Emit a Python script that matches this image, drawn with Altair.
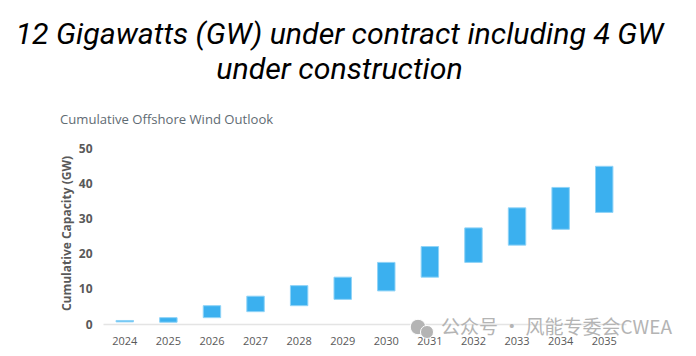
import altair as alt
import pandas as pd

years = ["2024","2025","2026","2027","2028","2029","2030","2031","2032","2033","2034","2035"]
low = [0.6,0.5,1.8,3.5,5.2,7.0,9.4,13.3,17.5,22.4,26.9,31.7]
high = [1.0,1.8,5.2,7.9,10.9,13.3,17.5,22.0,27.3,33.0,38.8,44.8]
title_lines = ["12 Gigawatts (GW) under contract including 4 GW", "under construction"]
subtitle = "Cumulative Offshore Wind Outlook"
watermark = "公众号 · 风能专委会CWEA"

df = pd.DataFrame({"year": years, "low": low, "high": high})
GREY = "#595959"

bars = alt.Chart(df).mark_bar(color="#3BB0EF", stroke="#8FD3F7", strokeWidth=1).encode(
    x=alt.X("year:N", sort=years, title=None,
            scale=alt.Scale(paddingInner=0.6, paddingOuter=0.3),
            axis=alt.Axis(labelAngle=0, ticks=False, domain=True, domainColor="#E4E4E4", domainWidth=1.5,
                          labelColor=GREY, labelFont="Open Sans", labelFontSize=11, labelPadding=11)),
    y=alt.Y("low:Q", title="Cumulative Capacity (GW)",
            scale=alt.Scale(domain=[0, 50], nice=False),
            axis=alt.Axis(values=[0,10,20,30,40,50], ticks=False, domain=False, grid=False,
                          labelColor=GREY, labelFont="Open Sans", labelFontWeight="bold", labelFontSize=12,
                          labelPadding=11, titleColor=GREY, titleFont="Open Sans", titleFontWeight="bold",
                          titleFontSize=12, titlePadding=5, titleY=85)),
    y2="high:Q",
)

sub = alt.Chart(pd.DataFrame({"t": [subtitle]})).mark_text(
    align="left", baseline="middle", font="Open Sans", fontSize=13.1, color="#5F6B73"
).encode(x=alt.value(-43), y=alt.value(-28), text="t:N")

wm_text = alt.Chart(pd.DataFrame({"t": [watermark]})).mark_text(
    align="left", baseline="middle", font="Noto Sans CJK SC", fontSize=19, color="#B4B4B4"
).encode(x=alt.value(338), y=alt.value(180), text="t:N")

icon = alt.Chart(pd.DataFrame({"px": [315, 324], "py": [179, 184], "s": [240, 170]})).mark_circle(
    color="#B4B4B4", opacity=1, stroke="white", strokeWidth=1
).encode(x=alt.X("px:Q", scale=None), y=alt.Y("py:Q", scale=None),
         size=alt.Size("s:Q", scale=None, legend=None))

chart = alt.layer(bars, sub, icon, wm_text).properties(
    width=523, height=176, background="white",
    title=alt.TitleParams(text=title_lines, font="Roboto", fontStyle="italic", fontWeight="normal",
                          fontSize=30.3, color="#000000", anchor="middle", dx=-25, offset=29, lineHeight=34.5),
    padding={"left": 95, "top": 140, "right": 60, "bottom": 28},
    autosize="none",
).configure_view(strokeWidth=0, stroke="transparent")

chart.save("out.html", embed_options={"renderer": "svg", "actions": False})
